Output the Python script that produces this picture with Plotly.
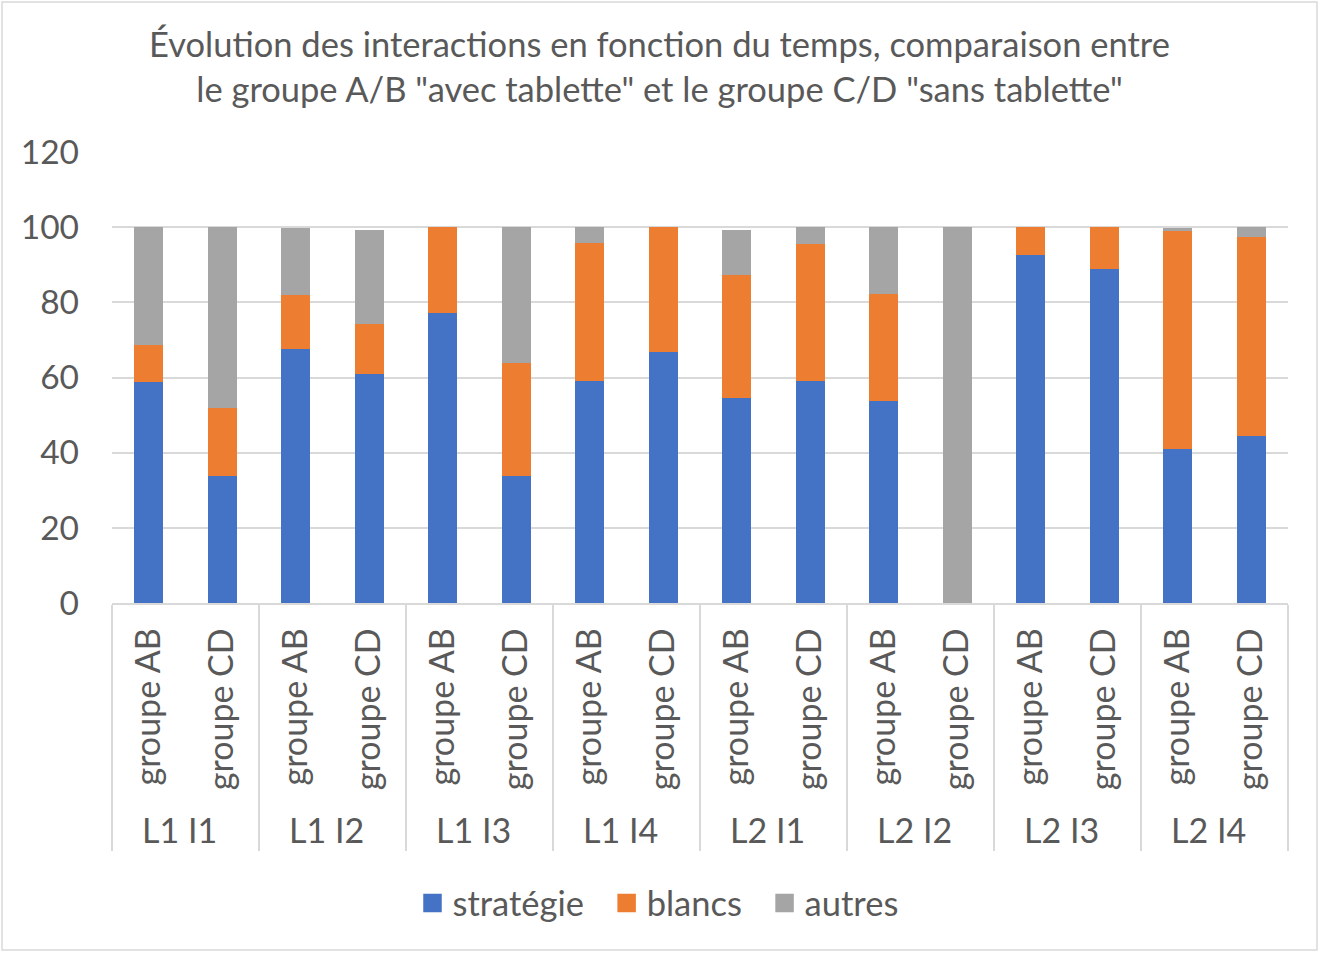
import plotly.graph_objects as go

sessions = ["L1 I1", "L1 I2", "L1 I3", "L1 I4", "L2 I1", "L2 I2", "L2 I3", "L2 I4"]
groups = ["groupe AB", "groupe CD"]

strategie = [58.8, 33.7, 67.5, 60.8, 77.2, 33.9, 59.0, 66.8, 54.5, 59.2, 53.7, 0.0, 92.5, 89.0, 41.0, 44.4]
blancs    = [9.9, 18.2, 14.5, 13.5, 22.8, 29.9, 36.9, 33.2, 32.9, 36.2, 28.6, 0.0, 7.5, 11.0, 58.2, 53.1]
autres    = [31.3, 48.1, 17.8, 25.0, 0.0, 36.2, 4.1, 0.0, 11.8, 4.6, 17.7, 100.0, 0.0, 0.0, 0.5, 2.5]

series = [("stratégie", strategie, "#4472C4"), ("blancs", blancs, "#ED7D31"), ("autres", autres, "#A5A5A5")]

outer = [s for s in sessions for _ in groups]
inner = [g for _ in sessions for g in groups]
x = [outer, inner]

FONT = "Lato, 'Open Sans', sans-serif"
TXT = "#595959"
PAD = "\u00a0\u00a0"

fig = go.Figure()
for name, vals, col in series:
    fig.add_trace(go.Bar(x=x, y=vals, name=name, showlegend=False,
                         marker=dict(color=col, line=dict(width=0))))
# legend entries with larger square symbols
for name, vals, col in series:
    fig.add_trace(go.Scatter(x=[[None], [None]], y=[None], name=name + PAD, mode="markers",
                             marker=dict(symbol="square", size=20, color=col,
                                         line=dict(width=2.5, color=col)),
                             hoverinfo="skip"))

fig.update_layout(
    barmode="stack",
    bargap=0.6,
    width=1319, height=953,
    margin=dict(l=112, r=31, t=152, b=350),
    paper_bgcolor="white", plot_bgcolor="white",
    font=dict(family=FONT, color=TXT, size=34),
    title=dict(
        text="Évolution des interactions en fonction du temps, comparaison entre<br>le groupe A/B \"avec tablette\" et le groupe C/D \"sans tablette\"",
        x=0.5, xanchor="center", xref="container",
        y=1 - 57 / 953, yanchor="middle", yref="container",
        font=dict(family=FONT, size=34.5, color=TXT),
    ),
    legend=dict(
        orientation="h", x=(667 - 112) / 1176, xanchor="center",
        y=(603 - 903) / 451, yanchor="middle",
        font=dict(family=FONT, size=34.5, color=TXT),
        itemwidth=30, traceorder="normal",
    ),
    showlegend=True,
)

fig.update_yaxes(
    range=[0, 120], dtick=20, showgrid=True, gridcolor="#D9D9D9", gridwidth=1.5,
    zeroline=False, showline=False, ticks="", ticklabelstandoff=32,
    tickfont=dict(family=FONT, size=33.5, color=TXT),
)
fig.update_xaxes(
    type="multicategory", tickangle=-90, showline=True, linecolor="#D9D9D9", linewidth=1.5,
    showdividers=True, dividercolor="#D9D9D9", dividerwidth=1.5,
    ticks="", ticklabelstandoff=10, tickfont=dict(family=FONT, size=34, color=TXT),
)

fig.add_shape(type="rect", xref="paper", yref="paper",
              x0=-110 / 1176, x1=1 + 29 / 1176, y0=-347 / 451, y1=1 + 150 / 451,
              line=dict(color="#D9D9D9", width=1.5), fillcolor="rgba(0,0,0,0)", layer="below")

fig.write_html("out.html", config={"displayModeBar": False},
               post_script="document.body.style.margin='0';")
